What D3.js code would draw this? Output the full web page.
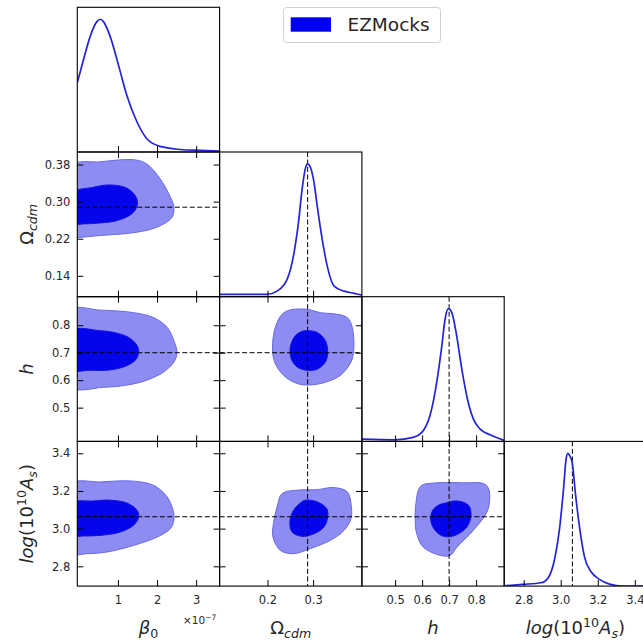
<!DOCTYPE html>
<html>
<head>
<meta charset="utf-8">
<script src="https://cdn.jsdelivr.net/npm/d3@7"></script>
<style>
  body { margin: 0; background: #fff; }
  svg { display: block; font-family: "DejaVu Sans", sans-serif; }
</style>
</head>
<body>
<div id="chart"></div>
<script>
// parameter limits (beta0 in units of 1e-7)
var betaLim = [-0.04, 3.6];
var omegaLim = [0.095, 0.407];
var hLim = [0.377, 0.904];
var asLim = [2.695, 3.463];

var betaTicks = [1, 2, 3];
var omegaTicksX = [0.2, 0.3];
var omegaTicksY = [0.14, 0.22, 0.30, 0.38];
var hTicks = [0.5, 0.6, 0.7, 0.8];
var asTicks = [2.8, 3.0, 3.2, 3.4];

// fiducial values (dashed lines)
var omegaTrue = 0.288;
var hTrue = 0.7;
var asTrue = 3.063;

// 1D marginals (normalised to peak)
var betaGrid = [-0.04, 0.12, 0.29, 0.46, 0.55, 0.63, 0.80, 1.02, 1.23, 1.49, 1.74, 2.08, 2.60, 3.11, 3.6];
var betaPdf  = [0.522, 0.697, 0.871, 0.982, 1.0, 0.982, 0.871, 0.647, 0.423, 0.224, 0.100, 0.042, 0.019, 0.012, 0.007];

var omegaGrid = [0.095, 0.199, 0.221, 0.243, 0.257, 0.268, 0.276, 0.283, 0.288, 0.294, 0.302, 0.309, 0.320, 0.331, 0.346, 0.368, 0.390, 0.407];
var omegaPdf  = [0.017, 0.017, 0.042, 0.131, 0.308, 0.561, 0.813, 0.965, 1.0, 0.975, 0.861, 0.684, 0.432, 0.230, 0.080, 0.042, 0.025, 0.012];

var hGrid = [0.377, 0.499, 0.567, 0.599, 0.629, 0.654, 0.673, 0.685, 0.697, 0.710, 0.726, 0.747, 0.768, 0.790, 0.815, 0.852, 0.904];
var hPdf  = [0.017, 0.012, 0.030, 0.068, 0.193, 0.443, 0.719, 0.920, 1.0, 0.970, 0.820, 0.544, 0.318, 0.168, 0.092, 0.050, 0.008];

var asGrid = [2.695, 2.795, 2.894, 2.930, 2.966, 2.993, 3.015, 3.029, 3.038, 3.047, 3.062, 3.079, 3.101, 3.128, 3.164, 3.209, 3.263, 3.335, 3.463];
var asPdf  = [0.002, 0.013, 0.025, 0.058, 0.197, 0.425, 0.728, 0.956, 1.0, 0.986, 0.931, 0.703, 0.450, 0.222, 0.108, 0.051, 0.015, 0.0, 0.0];

// 2D contours [x, y] : outer = 95%, inner = 68%
var omegaBetaOuter = [[-0.2,0.377],[0.55,0.386],[1.44,0.390],[1.74,0.381],[2.08,0.349],[2.30,0.317],[2.43,0.288],[2.38,0.266],[2.0,0.245],[1.40,0.233],[0.55,0.227],[0.03,0.223],[-0.2,0.223]];
var omegaBetaInner = [[-0.2,0.317],[0.37,0.331],[0.80,0.336],[1.23,0.329],[1.47,0.309],[1.49,0.291],[1.36,0.274],[0.97,0.259],[0.55,0.254],[0.12,0.252],[-0.2,0.252]];

var hBetaOuter = [[-0.2,0.855],[0.55,0.855],[1.40,0.846],[1.91,0.828],[2.26,0.792],[2.43,0.744],[2.51,0.700],[2.43,0.666],[2.17,0.630],[1.74,0.600],[1.23,0.582],[0.63,0.574],[-0.2,0.576]];
var hBetaInner = [[-0.2,0.780],[0.55,0.780],[0.89,0.774],[1.27,0.756],[1.49,0.726],[1.53,0.700],[1.44,0.672],[1.14,0.648],[0.72,0.636],[0.29,0.636],[-0.2,0.639]];

var asBetaOuter = [[-0.2,3.236],[0.55,3.248],[1.40,3.252],[1.91,3.230],[2.26,3.168],[2.41,3.097],[2.43,3.044],[2.34,3.000],[2.0,2.955],[1.40,2.911],[0.72,2.876],[0.21,2.867],[-0.2,2.870]];
var asBetaInner = [[-0.2,3.133],[0.37,3.147],[0.80,3.151],[1.23,3.136],[1.49,3.097],[1.53,3.062],[1.40,3.018],[1.06,2.982],[0.55,2.964],[0.12,2.961],[-0.2,2.963]];

var hOmegaOuter = [[0.250,0.856],[0.287,0.858],[0.316,0.846],[0.353,0.840],[0.375,0.828],[0.386,0.792],[0.389,0.708],[0.383,0.666],[0.360,0.618],[0.324,0.591],[0.287,0.582],[0.265,0.588],[0.239,0.612],[0.217,0.660],[0.211,0.714],[0.217,0.792],[0.232,0.840]];
var hOmegaInner = [[0.287,0.780],[0.309,0.774],[0.327,0.744],[0.332,0.702],[0.327,0.666],[0.309,0.640],[0.287,0.636],[0.265,0.648],[0.252,0.678],[0.250,0.720],[0.261,0.762],[0.276,0.778]];

var asOmegaOuter = [[0.232,3.186],[0.265,3.204],[0.309,3.207],[0.346,3.218],[0.375,3.195],[0.384,3.115],[0.383,3.053],[0.368,2.991],[0.338,2.938],[0.294,2.894],[0.257,2.867],[0.228,2.885],[0.212,2.955],[0.213,3.027],[0.221,3.115]];
var asOmegaInner = [[0.283,3.151],[0.309,3.142],[0.330,3.106],[0.332,3.062],[0.324,3.009],[0.302,2.973],[0.276,2.959],[0.254,2.982],[0.249,3.035],[0.257,3.097],[0.272,3.136]];

var asHOuter = [[0.599,3.230],[0.654,3.243],[0.753,3.243],[0.828,3.239],[0.846,3.213],[0.850,3.151],[0.840,3.088],[0.790,2.991],[0.729,2.902],[0.704,2.858],[0.667,2.858],[0.604,2.902],[0.580,2.973],[0.574,3.053],[0.577,3.133],[0.586,3.204]];
var asHInner = [[0.679,3.133],[0.729,3.147],[0.772,3.124],[0.781,3.071],[0.766,3.009],[0.722,2.964],[0.679,2.959],[0.648,2.991],[0.632,3.044],[0.639,3.097],[0.660,3.124]];

var legendLabel = "EZMocks";

var W = 643, H = 642;
var gridLeft = 77.3, gridTop = 7.3, cw = 142.3, rh = 144.7;

var params = [
  { lim: betaLim, xt: betaTicks, yt: null, fmt: d3.format("d"), yfmt: null, grid: betaGrid, pdf: betaPdf, truth: null },
  { lim: omegaLim, xt: omegaTicksX, yt: omegaTicksY, fmt: d3.format(".1f"), yfmt: d3.format(".2f"), grid: omegaGrid, pdf: omegaPdf, truth: omegaTrue },
  { lim: hLim, xt: hTicks, yt: hTicks, fmt: d3.format(".1f"), yfmt: d3.format(".1f"), grid: hGrid, pdf: hPdf, truth: hTrue },
  { lim: asLim, xt: asTicks, yt: asTicks, fmt: d3.format(".1f"), yfmt: d3.format(".1f"), grid: asGrid, pdf: asPdf, truth: asTrue }
];

var contours = {
  "1,0": [omegaBetaOuter, omegaBetaInner],
  "2,0": [hBetaOuter, hBetaInner],
  "3,0": [asBetaOuter, asBetaInner],
  "2,1": [hOmegaOuter, hOmegaInner],
  "3,1": [asOmegaOuter, asOmegaInner],
  "3,2": [asHOuter, asHInner]
};

var svg = d3.select("#chart").append("svg")
  .attr("width", W).attr("height", H);

function xScale(j) {
  return d3.scaleLinear().domain(params[j].lim).range([gridLeft + j * cw, gridLeft + (j + 1) * cw]);
}
function yScale(i) {
  return d3.scaleLinear().domain(params[i].lim).range([gridTop + (i + 1) * rh, gridTop + i * rh]);
}

var curveColor = "rgb(35,35,215)";
var outerFill = "rgb(140,140,242)", outerStroke = "rgb(105,105,225)";
var innerFill = "rgb(5,5,235)", innerStroke = "rgb(20,20,220)";
var textColor = "#262626";

function styleAxis(g) {
  g.select(".domain").remove();
  g.selectAll(".tick line").attr("stroke", "#000").attr("stroke-width", 1);
  g.selectAll(".tick text").attr("fill", textColor)
    .style("font-family", "'DejaVu Sans', sans-serif").style("font-size", "11.5px");
}

var none = function () { return ""; };

for (var i = 0; i < 4; i++) {
  for (var j = 0; j <= i; j++) {
    var x = xScale(j);
    var x0 = gridLeft + j * cw, y0 = gridTop + i * rh;
    var panel = svg.append("g");
    var clipId = "clip" + i + j;
    svg.append("clipPath").attr("id", clipId)
      .append("rect").attr("x", x0).attr("y", y0).attr("width", cw).attr("height", rh);
    var body = panel.append("g").attr("clip-path", "url(#" + clipId + ")");

    if (i === j) {
      // diagonal: 1D marginal
      var yd = d3.scaleLinear().domain([0, 1.09]).range([y0 + rh, y0]);
      var p = params[i];
      var pts = p.grid.map(function (g, k) { return [g, p.pdf[k]]; });
      if (p.truth !== null) {
        body.append("line")
          .attr("x1", x(p.truth)).attr("x2", x(p.truth))
          .attr("y1", y0).attr("y2", y0 + rh)
          .attr("stroke", "#000").attr("stroke-width", 1).attr("stroke-dasharray", "5,2.5");
      }
      body.append("path")
        .datum(pts)
        .attr("fill", "none")
        .attr("stroke", curveColor)
        .attr("stroke-width", 1.7)
        .attr("d", d3.line()
          .x(function (d) { return x(d[0]); })
          .y(function (d) { return yd(d[1]); })
          .curve(d3.curveMonotoneX));

      var gb = panel.append("g").attr("transform", "translate(0," + (y0 + rh) + ")")
        .call(d3.axisBottom(x).tickValues(p.xt).tickSize(-6).tickPadding(10)
          .tickFormat(i === 3 ? p.fmt : none));
      styleAxis(gb);
    } else {
      var y = yScale(i);
      var shapes = contours[i + "," + j];
      var cline = d3.line()
        .x(function (d) { return x(d[0]); })
        .y(function (d) { return y(d[1]); })
        .curve(d3.curveCatmullRomClosed.alpha(0.5));
      body.append("path").datum(shapes[0])
        .attr("fill", outerFill).attr("stroke", outerStroke).attr("stroke-width", 1)
        .attr("d", cline);
      body.append("path").datum(shapes[1])
        .attr("fill", innerFill).attr("stroke", innerStroke).attr("stroke-width", 1)
        .attr("d", cline);

      // fiducial lines
      if (params[j].truth !== null) {
        body.append("line")
          .attr("x1", x(params[j].truth)).attr("x2", x(params[j].truth))
          .attr("y1", y0).attr("y2", y0 + rh)
          .attr("stroke", "#000").attr("stroke-width", 1).attr("stroke-dasharray", "5,2.5");
      }
      body.append("line")
        .attr("x1", x0).attr("x2", x0 + cw)
        .attr("y1", y(params[i].truth)).attr("y2", y(params[i].truth))
        .attr("stroke", "#000").attr("stroke-width", 1).attr("stroke-dasharray", "5,2.5");

      var gb2 = panel.append("g").attr("transform", "translate(0," + (y0 + rh) + ")")
        .call(d3.axisBottom(x).tickValues(params[j].xt).tickSize(-6).tickPadding(10)
          .tickFormat(i === 3 ? params[j].fmt : none));
      styleAxis(gb2);
      var gt = panel.append("g").attr("transform", "translate(0," + y0 + ")")
        .call(d3.axisTop(x).tickValues(params[j].xt).tickSize(-6).tickFormat(none));
      styleAxis(gt);
      var gl = panel.append("g").attr("transform", "translate(" + x0 + ",0)")
        .call(d3.axisLeft(y).tickValues(params[i].yt).tickSize(-6).tickPadding(7)
          .tickFormat(j === 0 ? params[i].yfmt : none));
      styleAxis(gl);
      var gr = panel.append("g").attr("transform", "translate(" + (x0 + cw) + ",0)")
        .call(d3.axisRight(y).tickValues(params[i].yt).tickSize(-6).tickFormat(none));
      styleAxis(gr);
    }

    panel.append("rect")
      .attr("x", x0).attr("y", y0).attr("width", cw).attr("height", rh)
      .attr("fill", "none").attr("stroke", "#000").attr("stroke-width", 1.1);
  }
}

// axis labels
var labelSize = 18;
function mathLabel(g, parts) {
  var t = g.append("text").attr("fill", textColor).style("font-size", labelSize + "px");
  parts.forEach(function (p) {
    var s = t.append("tspan").text(p.t);
    if (p.i) s.style("font-style", "italic");
    if (p.small) s.style("font-size", (labelSize * 0.7) + "px");
    if (p.dy) s.attr("dy", p.dy);
  });
  return t;
}

var betaParts = [{ t: "β", i: true }, { t: "0", small: true, dy: 4 }];
var omegaParts = [{ t: "Ω" }, { t: "cdm", i: true, small: true, dy: 4 }];
var hParts = [{ t: "h", i: true }];
var asParts = [{ t: "log", i: true }, { t: "(10" }, { t: "10", small: true, dy: -7 },
  { t: "A", i: true, dy: 7 }, { t: "s", i: true, small: true, dy: 4 }, { t: ")", dy: -4 }];
var labelParts = [betaParts, omegaParts, hParts, asParts];

labelParts.forEach(function (parts, k) {
  var cx = gridLeft + (k + 0.5) * cw;
  var g = svg.append("g").attr("transform", "translate(" + cx + ",634)");
  mathLabel(g, parts).attr("text-anchor", "middle");
});
[1, 2, 3].forEach(function (k) {
  var cy = gridTop + (k + 0.5) * rh;
  var g = svg.append("g").attr("transform", "translate(33," + cy + ") rotate(-90)");
  mathLabel(g, labelParts[k]).attr("text-anchor", "middle");
});

// offset text for beta0
var off = svg.append("text").attr("x", 183).attr("y", 624)
  .attr("fill", textColor).style("font-size", "10.5px");
off.append("tspan").text("×10");
off.append("tspan").text("−7").attr("dy", -4).style("font-size", "7.5px");

// legend
var lg = svg.append("g");
lg.append("rect").attr("x", 283.5).attr("y", 7.5).attr("width", 157).attr("height", 35)
  .attr("rx", 3).attr("fill", "#fff").attr("stroke", "#d0d0d0").attr("stroke-width", 1);
lg.append("rect").attr("x", 290.7).attr("y", 17.3).attr("width", 40.3).attr("height", 14.4)
  .attr("fill", "rgb(0,0,240)");
lg.append("text").attr("x", 347.5).attr("y", 31)
  .attr("fill", textColor).style("font-size", "18.5px").text(legendLabel);
</script>
</body>
</html>
